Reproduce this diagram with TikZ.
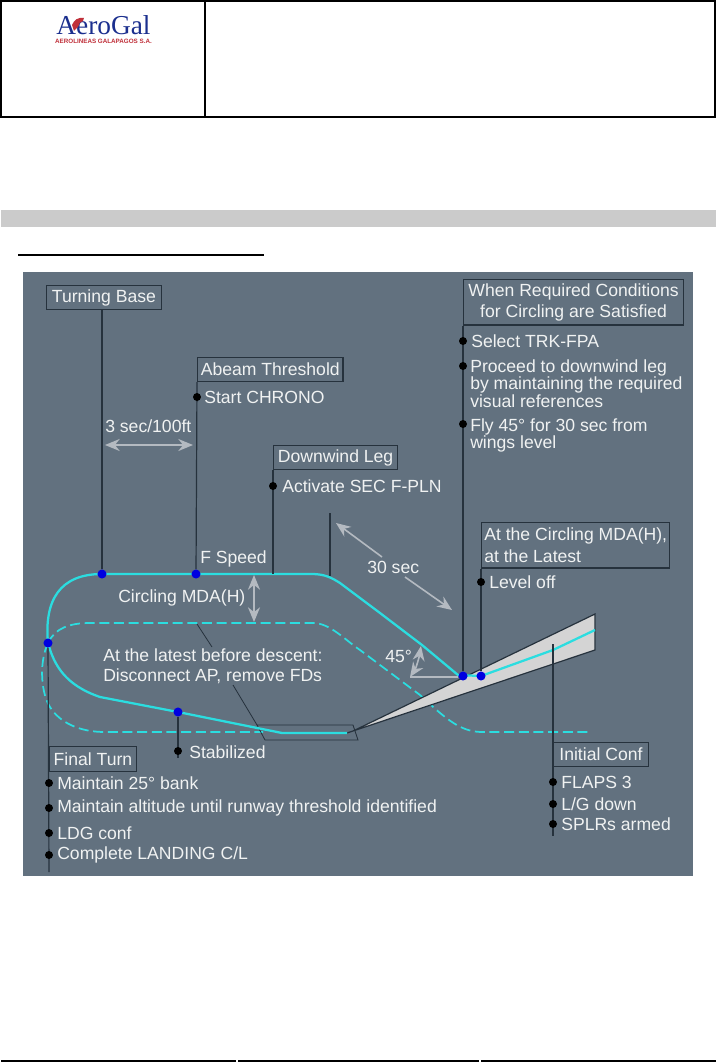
\documentclass[tikz,border=0pt]{standalone}
\usepackage{fontspec}
\setmainfont{Liberation Sans}
\newfontfamily\logoserif{Liberation Serif}
\usetikzlibrary{arrows.meta,positioning,calc}
\definecolor{panel}{HTML}{62717F}
\definecolor{boxline}{HTML}{26323D}
\definecolor{path}{HTML}{2BDDE0}
\definecolor{waypoint}{HTML}{0000E0}
\definecolor{ink}{HTML}{F0F2F2}
\definecolor{arrowgrey}{HTML}{B4BAC1}
\definecolor{cone}{HTML}{D4D4D4}
\definecolor{bar}{HTML}{CBCBCB}
\definecolor{logoblue}{HTML}{1B2F8E}
\definecolor{logored}{HTML}{C0303A}
\tikzset{
  titlebox/.style={draw=boxline, line width=0.9pt, align=left, anchor=north west,
    inner xsep=2pt, inner ysep=0pt, font=\fontsize{13.2}{16}\selectfont, text=ink},
  item/.style={anchor=west, align=left, inner sep=0pt, text=ink,
    font=\fontsize{13.2}{11.7}\selectfont},
  note/.style={item, font=\fontsize{13.2}{15}\selectfont},
  blip/.style={circle, fill=black, inner sep=0pt, minimum size=6pt},
  wpt/.style={circle, fill=waypoint, inner sep=0pt, minimum size=6.8pt},
  leader/.style={draw=boxline, line width=0.9pt},
  thin leader/.style={draw=boxline, line width=0.6pt},
  flight/.style={draw=path, line width=1.7pt},
  missed/.style={flight, line width=1.3pt, dash pattern=on 7.5pt off 3.5pt},
  greyarr/.style={{Stealth[length=11pt,width=9pt]}-{Stealth[length=11pt,width=9pt]},
    line width=1.2pt, draw=arrowgrey},
  greyline/.style={draw=arrowgrey, line width=1.2pt}
}
\begin{document}
\begin{tikzpicture}[x=0.75pt,y=-0.75pt]
  \useasboundingbox (0,0) rectangle (716,1062);
  \fill[white] (0,0) rectangle (716,1062);
  % page furniture
  \draw[line width=1.6pt] (1,1) rectangle (715,117);
  \draw[line width=1.6pt] (205,1) -- (205,117);
  \fill[bar] (1,210) rectangle (716,227);
  \draw[line width=0.8pt] (18,255) -- (264,255);
  \draw[line width=1.4pt] (1,1061) -- (236,1061) (238,1061) -- (479,1061) (481,1061) -- (716,1061);
  \node[anchor=center, inner sep=0pt, text=logoblue, font=\logoserif\fontsize{20.5}{21}\selectfont] (logoname) at (103.5,25.5) {AeroGal};
  \node[anchor=center, inner sep=0pt, text=logored, font=\bfseries\fontsize{4.7}{5}\selectfont] (logosub) at (103.5,41.5) {AEROLINEAS GALAPAGOS S.A.};
  \fill[logored] (72,25) .. controls (74,20) and (78,17) .. (84,18) -- (83,21) .. controls (80,21) and (79,24) .. (78,27) -- (74,31) -- cycle;
  % panel
  \fill[panel] (23,272) rectangle (693,876);
  % dashed path
  \draw[missed] (48,643) .. controls (55,628) and (70,623) .. (90,623) -- (313,623)
    .. controls (330,623) and (345,640) .. (360,650) -- (420,695)
    .. controls (445,718) and (460,732) .. (482,732) -- (590,732);
  \draw[missed] (48,643) .. controls (38,665) and (42,695) .. (50,707)
    .. controls (60,723) and (80,732) .. (105,732) -- (263,732);
  % approach cone
  \fill[cone] (353,731) -- (595,614) -- (595,650) -- cycle;
  \draw[leader] (347,733) -- (353,731) -- (595,614) -- (595,650) -- (353,731);
  % runway
  \draw[thin leader] (257,725) -- (353,725) -- (358,740) -- (265,740) -- cycle;
  % title boxes
  \node[titlebox, minimum width=86pt, minimum height=18pt] (turnbase) at (46,285) {Turning Base};
  \node[titlebox, minimum width=109pt, minimum height=18pt] (abeam) at (197,357) {Abeam Threshold};
  \node[titlebox, minimum width=93pt, minimum height=18pt] (downwind) at (273,445) {Downwind Leg};
  \node[titlebox, minimum width=165pt, minimum height=34pt, align=center] (conditions) at (463,279) {When Required Conditions\\for Circling are Satisfied};
  \node[titlebox, minimum width=141pt, minimum height=34pt] (latest) at (481,522) {At the Circling MDA(H),\\at the Latest};
  \node[titlebox, minimum width=71pt, minimum height=18pt] (initconf) at (553,742) {Initial Conf};
  \node[titlebox, minimum width=65pt, minimum height=18.5pt] (finalturn) at (49,746) {Final Turn};
  % flight path
  \draw[flight] (48,643) .. controls (44,600) and (60,574) .. (102,574) -- (312,574)
    .. controls (325,574) and (332,578) .. (340,583) -- (380,613) -- (422,645) -- (458,675)
    -- (481,676) -- (553,650) -- (595,630);
  \draw[flight] (48,643) .. controls (54,665) and (65,685) .. (100,697) -- (178,712) -- (282,733) -- (347,733);
  % waypoints
  \node[wpt] (tbwpt) at (102,574) {};
  \node[wpt] (abwpt) at (196,574) {};
  \node[wpt] (ftwpt) at (48,643) {};
  \node[wpt] (stwpt) at (178,712) {};
  \node[wpt] (cowpt) at (463,676) {};
  \node[wpt] (lowpt) at (481,676) {};
  % leaders
  \coordinate (basetop) at (330,513);
  \coordinate (basefoot) at (330,576);
  \coordinate (stabfoot) at (178,758);
  \coordinate (ftfoot) at (49,872);
  \coordinate (icfoot) at (553,836);
  \coordinate (ictop) at (553,644);
  \draw[leader] (turnbase.south -| tbwpt) -- (tbwpt);
  \draw[leader] (abeam.south west) -- (abwpt);
  \draw[leader] (downwind.south west) -- (273,574);
  \draw[leader] (basetop) -- (basefoot);
  \draw[leader] (conditions.south west) -- (cowpt);
  \draw[leader] (latest.south west) -- (lowpt);
  \draw[leader] (ftwpt) -- (ftfoot);
  \draw[leader] (stwpt) -- (stabfoot);
  \draw[leader] (ictop) -- (icfoot);
  \coordinate (mdafoot) at (197,624);
  \coordinate (lateA) at (212,647);
  \coordinate (lateB) at (233,685);
  \coordinate (rwytop) at (257,725);
  \draw[thin leader] (mdafoot) -- (lateA) (lateB) -- (rwytop);
  % items
  \node[blip] (chronodot) at (197,397) {};
  \node[item] (chrono) at (204,397) {Start CHRONO};
  \node[blip] (secdot) at (273,486) {};
  \node[item] (secfpln) at (282,486) {Activate SEC F-PLN};
  \node[blip] (trkdot) at (463,341) {};
  \node[item] (trk) at (471,341) {Select TRK-FPA};
  \node[blip] (procdot) at (463,366) {};
  \node[item, anchor=north west] (proceed) at (470,359) {Proceed to downwind leg\\by maintaining the required\\visual references};
  \node[blip] (flydot) at (463,424) {};
  \node[item, anchor=north west] (fly) at (470,418) {Fly 45° for 30 sec from\\wings level};
  \node[blip] (levdot) at (481,582) {};
  \node[item] (level) at (489,582) {Level off};
  \node[blip] (stabdot) at (178,751) {};
  \node[item] (stab) at (189,752) {Stabilized};
  \node[blip] (bankdot) at (49,783) {};
  \node[item] (bank) at (57,783) {Maintain 25° bank};
  \node[blip] (altdot) at (49,808) {};
  \node[item] (alt) at (57,808) {Maintain altitude until runway threshold identified};
  \node[blip] (ldgdot) at (49,833) {};
  \node[item] (ldg) at (57,833) {LDG conf};
  \node[blip] (cldot) at (49,855) {};
  \node[item] (cl) at (57,855) {Complete LANDING C/L};
  \node[blip] (flapdot) at (553,782) {};
  \node[item] (flaps) at (561,782) {FLAPS 3};
  \node[blip] (gdot) at (553,804) {};
  \node[item] (gear) at (561,804) {L/G down};
  \node[blip] (spdot) at (553,824) {};
  \node[item] (splrs) at (561,824) {SPLRs armed};
  % free labels
  \node[item] (fspeed) at (200,559) {F Speed};
  \node[item] (sec100) at (105,426) {3 sec/100ft};
  \node[item] (mda) at (118,598) {Circling MDA(H)};
  \node[note] (discon) at (103,666) {At the latest before descent:\\Disconnect AP, remove FDs};
  \node[item] (thirty) at (367,567) {30 sec};
  \node[item] (angle) at (385,656) {45°};
  % grey arrows
  \coordinate (ahL) at (105,445);
  \coordinate (ahR) at (193,445);
  \coordinate (mdaT) at (254,575);
  \coordinate (mdaB) at (254,622);
  \coordinate (thA) at (336,523);
  \coordinate (thB) at (382,557);
  \coordinate (thC) at (405,577);
  \coordinate (thD) at (452,610);
  \coordinate (angT) at (421,646);
  \coordinate (angB) at (410,677);
  \coordinate (angE) at (458,677);
  \draw[greyarr] (ahL) -- (ahR);
  \draw[greyarr] (mdaT) -- (mdaB);
  \draw[greyline, {Stealth[length=11pt,width=9pt]}-] (thA) -- (thB);
  \draw[greyline, -{Stealth[length=11pt,width=9pt]}] (thC) -- (thD);
  \draw[greyline] (angB) -- (angE);
  \draw[greyarr] (angB) .. controls (416,668) and (419,658) .. (angT);
\end{tikzpicture}
\end{document}
